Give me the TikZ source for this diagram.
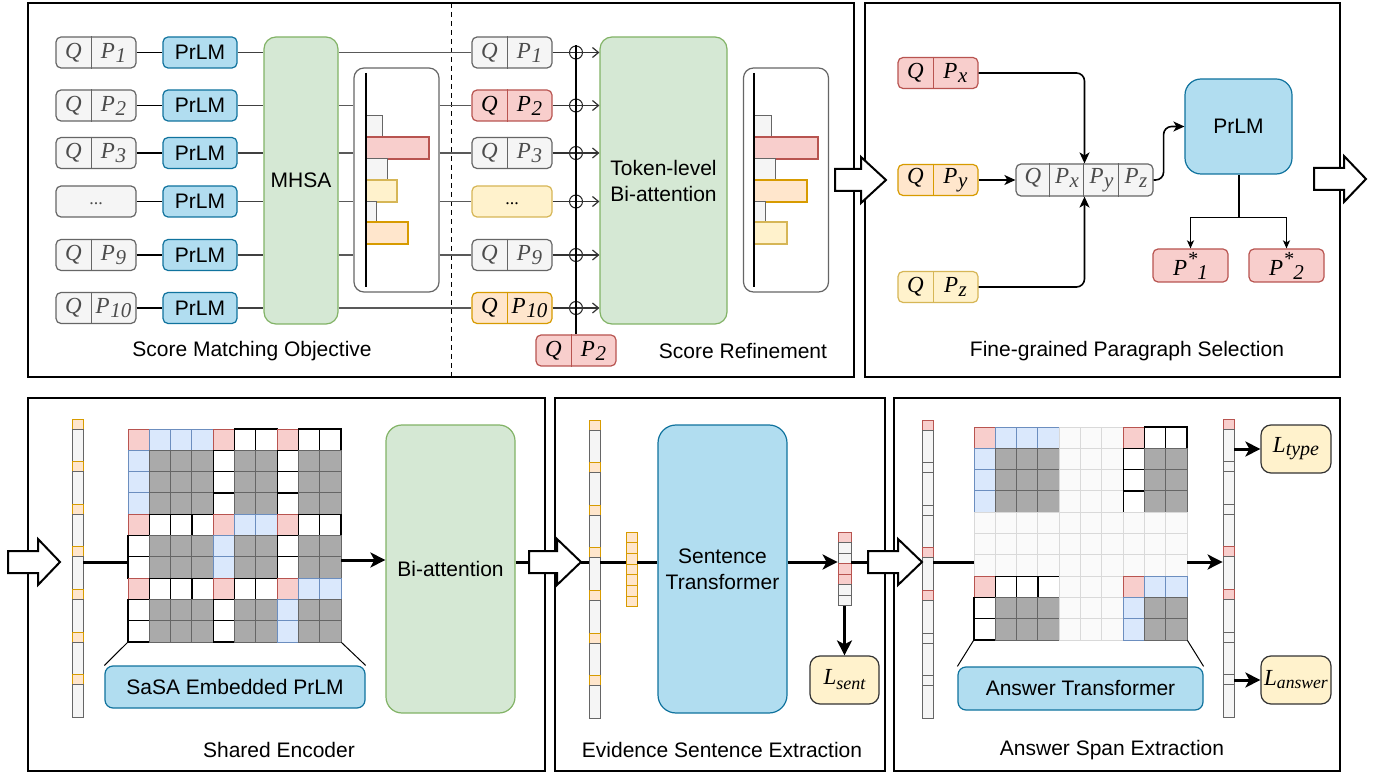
\documentclass[tikz,border=0pt]{standalone}
\usepackage{fontspec}
\setmainfont{Liberation Sans}
\newfontfamily\tms{Liberation Serif}
\usetikzlibrary{arrows.meta,calc}
\definecolor{grayF}{HTML}{F5F5F5}
\definecolor{grayS}{HTML}{666666}
\definecolor{redF}{HTML}{F8CECC}
\definecolor{redS}{HTML}{B85450}
\definecolor{yelF}{HTML}{FFF2CC}
\definecolor{yelS}{HTML}{D6B656}
\definecolor{oraF}{HTML}{FFE6CC}
\definecolor{oraS}{HTML}{D79B00}
\definecolor{bluF}{HTML}{B1DDF0}
\definecolor{bluS}{HTML}{10739E}
\definecolor{grnF}{HTML}{D5E8D4}
\definecolor{grnS}{HTML}{82B366}
\definecolor{lbF}{HTML}{DAE8FC}
\definecolor{lbS}{HTML}{6C8EBF}
\definecolor{cellG}{HTML}{AAAAAA}
\newcommand\Psub[1]{P\kern0.3pt\raisebox{-2pt}{\fontsize{10.5}{10.5}\selectfont #1}}
\newcommand\qpb[5]{%
  \node[qpbox,#4] (#1) at (#2,#3) {\makebox[17.5pt]{Q}\makebox[22.5pt]{#5}};
  \draw[#4,fill=none] ($(#1.north)+(-5,0)$) -- ($(#1.south)+(-5,0)$);
}
\newcommand\blockarrow[4]{%
  \draw[blk] (#1,#4-11) -- (#2,#4-11) -- (#2,#4-23) -- (#3,#4) -- (#2,#4+23) -- (#2,#4+11) -- (#1,#4+11) -- cycle;
}
\newcommand\attnmat[3]{%
  \foreach \row [count=\r from 0] in {#3} {
    \foreach \t [count=\c from 0] in \row {
      \draw[cell\t] (#1+\c*21.3,#2+\r*21.3) rectangle ++(21.3,21.3);
    }
  }
}
\newcommand\tokcol[4]{% x, y, width, list k/style
  \foreach \k/\s in {#4} {
    \draw[\s] (#1,#2+\k*42.6) rectangle ++(#3,10);
    \draw[tokg] (#1,#2+\k*42.6+10) rectangle ++(#3,32.6);
  }
}
\begin{document}
\begin{tikzpicture}[x=0.5pt,y=-0.5pt,
  lbl/.style={font=\fontsize{10.5}{13}\selectfont, inner sep=0, align=center},
  panel/.style={draw=black, line width=1pt, inner sep=0, rectangle},
  qpbox/.style={rectangle, rounded corners=2.5pt, minimum width=40pt, minimum height=15.5pt, inner sep=0, line width=0.6pt, font=\fontsize{11.5}{13}\tms\itshape},
  gbox/.style={fill=grayF, draw=grayS, text=black!70},
  rbox/.style={fill=redF, draw=redS},
  ybox/.style={fill=yelF, draw=yelS},
  obox/.style={fill=oraF, draw=oraS},
  bbox/.style={fill=bluF, draw=bluS},
  grbox/.style={fill=grnF, draw=grnS},
  lbox/.style={fill=yelF, draw=black!80, rectangle, rounded corners=5pt, line width=0.6pt, inner sep=0, font=\fontsize{11.5}{13}\tms\itshape},
  smbox/.style={rectangle, rounded corners=2.5pt, minimum width=37pt, minimum height=15.5pt, inner sep=0, line width=0.6pt, font=\fontsize{10.5}{12}\selectfont},
  bigbox/.style={rectangle, rounded corners=6pt, inner sep=0, line width=0.6pt, align=center, font=\fontsize{10.5}{13}\selectfont},
  chart/.style={rectangle, rounded corners=5pt, draw=black!60, line width=0.6pt, minimum width=42.5pt, minimum height=112pt, inner sep=0},
  plus/.style={circle, draw=black!85, minimum size=6.5pt, inner sep=0, line width=0.5pt},
  ln/.style={draw=black, line width=0.6pt},
  ln2/.style={draw=black!75, line width=0.6pt},
  gl/.style={draw=black!65, line width=0.7pt},
  sarr/.style={draw=black!80, line width=0.6pt, -{Straight Barb[length=3pt,width=5pt]}},
  farr/.style={draw=black, line width=0.8pt, rounded corners=4pt, -{Stealth[length=5.5pt,width=5pt,inset=1.5pt]}},
  farr2/.style={draw=black, line width=0.9pt, -{Stealth[length=4pt,width=3.5pt,inset=1pt]}},
  thk/.style={draw=black, line width=1.5pt},
  thka/.style={draw=black, line width=1.5pt, -{Stealth[length=7.5pt,width=7.5pt,inset=2pt]}},
  blk/.style={draw=black, fill=white, line width=1pt, line join=miter},
  bargray/.style={fill=grayF, draw=grayS, line width=0.5pt},
  barred/.style={fill=redF, draw=redS, line width=0.6pt},
  baryel/.style={fill=yelF, draw=yelS, line width=0.6pt},
  barora/.style={fill=oraF, draw=oraS, line width=0.6pt},
  cellR/.style={fill=redF, draw=redS, line width=0.5pt},
  cellB/.style={fill=lbF, draw=lbS, line width=0.5pt},
  cellW/.style={fill=white, draw=black, line width=0.6pt},
  cellG/.style={fill=cellG, draw=black!60, line width=0.5pt},
  cellL/.style={fill=black!2, draw=black!15, line width=0.5pt},
  tokg/.style={fill=grayF, draw=grayS, line width=0.5pt},
  toko/.style={fill=oraF, draw=oraS, line width=0.5pt},
  tokr/.style={fill=redF, draw=redS, line width=0.5pt},
  hold/.style={inner sep=0, rectangle}
]
\fill[white] (0,0) rectangle (1377,775);
\useasboundingbox (0,0) rectangle (1377,775);

% ---------- panels ----------
\node[panel, minimum width=413pt, minimum height=187pt] (pA) at (441,190) {};
\node[panel, minimum width=237.5pt, minimum height=187pt] (pB) at (1102.5,190) {};
\node[panel, minimum width=258.5pt, minimum height=186.5pt] (pC) at (286.5,584.5) {};
\node[panel, minimum width=165pt, minimum height=186.5pt] (pD) at (720,584.5) {};
\node[panel, minimum width=223pt, minimum height=186.5pt] (pE) at (1117,584.5) {};
\coordinate (dtop) at (451,3);
\coordinate (dbot) at (451,377);
\draw[dash pattern=on 2.5pt off 2pt, line width=0.5pt] (dtop) -- (dbot);

% ---------- Score matching objective ----------
\qpb{a1}{96}{52.5}{gbox}{\Psub{1}}
\qpb{a2}{96}{105.5}{gbox}{\Psub{2}}
\qpb{a3}{96}{153}{gbox}{\Psub{3}}
\node[qpbox,gbox] (a4) at (96,201.5) {\raisebox{-3pt}{\upshape\fontsize{9}{9}\selectfont ...}};
\qpb{a5}{96}{255}{gbox}{\Psub{9}}
\qpb{a6}{96}{308}{gbox}{\Psub{10}}
\foreach \i/\y in {1/52.5,2/105.5,3/153,4/201.5,5/255,6/308} {
  \node[smbox,bbox] (p\i) at (200,\y) {PrLM};
}
\node[bigbox,grbox,minimum width=37pt,minimum height=143.5pt] (mh) at (301,180.5) {MHSA};
\node[chart] (ch1) at (396.5,180) {};
\foreach \i in {1,...,6} {
  \draw[ln] (a\i.east) -- (p\i.west);
  \draw[ln2] (p\i.east) -- (p\i.east -| mh.west);
}
% bars 1
\draw[bargray] (366,116) rectangle (382,137);
\draw[barred] (366,137) rectangle (429,159);
\draw[bargray] (366,159) rectangle (387,180);
\draw[baryel] (366,180) rectangle (397,202);
\draw[bargray] (366,202) rectangle (376,222);
\draw[barora] (366,222) rectangle (408,244);
\draw[line width=0.6pt] (366,73) -- (366,287);
\node[lbl] (capA) at (252,351) {Score Matching Objective};

% ---------- Score refinement ----------
\qpb{b1}{512}{52.5}{gbox}{\Psub{1}}
\qpb{b2}{512}{105.5}{rbox}{\Psub{2}}
\qpb{b3}{512}{153}{gbox}{\Psub{3}}
\node[qpbox,ybox] (b4) at (512,201.5) {\raisebox{-3pt}{\upshape\fontsize{9}{9}\selectfont ...}};
\qpb{b5}{512}{255}{gbox}{\Psub{9}}
\qpb{b6}{512}{308}{obox}{\Psub{10}}
\qpb{bq}{576}{350.5}{rbox}{\Psub{2}}
\node[bigbox,grbox,minimum width=63.5pt,minimum height=143.5pt] (tb) at (663.5,180.5) {Token-level\\Bi-attention};
\node[chart] (ch2) at (786,180) {};
\draw[gl] (mh.east |- b1.west) -- (b1.west);
\draw[gl] (mh.east |- b6.west) -- (b6.west);
\foreach \i in {2,...,5} {
  \draw[gl] (mh.east |- b\i.west) -- (ch1.west |- b\i.west);
  \draw[gl] (ch1.east |- b\i.west) -- (b\i.west);
}
\foreach \i/\y in {1/52.5,2/105.5,3/153,4/201.5,5/255,6/308} {
  \node[plus] (c\i) at (576,\y) {};
  \draw[sarr] (b\i.east) -- (b\i.east -| tb.west);
}
\draw[ln] (c1.north) -- (bq.north);
% bars 2
\draw[bargray] (754,116) rectangle (771,137);
\draw[barred] (754,137) rectangle (818,159);
\draw[bargray] (754,159) rectangle (775,180);
\draw[barora] (754,180) rectangle (807,202);
\draw[bargray] (754,202) rectangle (765,222);
\draw[baryel] (754,222) rectangle (787,244);
\draw[line width=0.6pt] (754,73) -- (754,287);
\node[lbl] (capA2) at (743,351) {Score Refinement};

% ---------- Fine-grained paragraph selection ----------
\qpb{fx}{938}{73}{rbox}{\Psub{x}}
\qpb{fy}{938}{180}{obox}{\Psub{y}}
\qpb{fz}{938}{287}{ybox}{\Psub{z}}
\node[qpbox,gbox,minimum width=68.5pt,minimum height=16pt] (cat) at (1084.5,180)
  {\makebox[17pt]{Q}\makebox[17pt]{\Psub{x}}\makebox[17.5pt]{\Psub{y}}\makebox[17pt]{\Psub{z}}};
\foreach \d in {34,68,103} {
  \draw[draw=grayS,line width=0.6pt] ($(cat.north west)+(\d,0)$) -- ($(cat.south west)+(\d,0)$);
}
\node[bigbox,bbox,rounded corners=8pt,minimum width=53.5pt,minimum height=47.5pt] (pr2) at (1238.5,126.5) {PrLM};
\node[qpbox,rbox,minimum width=37.5pt,minimum height=16.5pt] (ps1) at (1190.5,265.5)
  {P\raisebox{5pt}{\fontsize{10}{10}\selectfont *}\raisebox{-2pt}{\fontsize{10.5}{10}\selectfont 1}};
\node[qpbox,rbox,minimum width=37.5pt,minimum height=16.5pt] (ps2) at (1286.5,265.5)
  {P\raisebox{5pt}{\fontsize{10}{10}\selectfont *}\raisebox{-2pt}{\fontsize{10.5}{10}\selectfont 2}};
\draw[farr] (fx.east) -| (cat.north);
\draw[farr] (fy.east) -- (cat.west);
\draw[farr] (fz.east) -| (cat.south);
\draw[farr] (cat.east) -- ++(10,0) |- (pr2.west);
\coordinate (split) at ($(pr2.south)+(0,43)$);
\draw[line width=1pt] (pr2.south) -- (split);
\draw[farr2] (split) -| (ps1.north);
\draw[farr2] (split) -| (ps2.north);
\node[lbl] (capB) at (1127,351) {Fine-grained Paragraph Selection};

% ---------- Shared encoder ----------
\coordinate (mid) at (0,562);
\node[hold, minimum width=5.5pt, minimum height=149pt] (col1) at (77.5,568) {};
\tokcol{72}{419}{11}{0/toko,1/toko,2/toko,3/toko,4/toko,5/toko,6/toko}
\node[hold, minimum size=106.5pt] (mat1) at (234.5,535.5) {};
\attnmat{128}{429}{{R,B,B,B,R,W,W,R,W,W},{B,G,G,G,W,G,G,W,G,G},{B,G,G,G,W,G,G,W,G,G},{B,G,G,G,W,G,G,W,G,G},{R,W,W,W,R,B,B,R,W,W},{W,G,G,G,B,G,G,W,G,G},{W,G,G,G,B,G,G,W,G,G},{R,W,W,W,R,W,W,R,B,B},{W,G,G,G,W,G,G,B,G,G},{W,G,G,G,W,G,G,B,G,G}}
\node[bigbox,bbox,rounded corners=4pt,minimum width=130pt,minimum height=21pt] (sasa) at (235,687) {SaSA Embedded PrLM};
\draw[line width=0.5pt] (mat1.south west) -- (sasa.north west);
\draw[line width=0.5pt] (mat1.south east) -- (sasa.north east);
\node[bigbox,grbox,rounded corners=8pt,minimum width=64.5pt,minimum height=144pt] (bi) at (450.5,569) {Bi-attention};
\draw[thk] (col1.east |- mid) -- (mat1.west |- mid);
\draw[thka] (mat1.east |- 0,560) -- (bi.west |- 0,560);
\coordinate (s2) at (529,562);
\draw[thk] (bi.east |- s2) -- (s2);
\node[lbl] (capC) at (279,750) {Shared Encoder};

% ---------- Evidence sentence extraction ----------
\node[hold, minimum width=5.5pt, minimum height=149pt] (col2) at (594.5,569) {};
\tokcol{589}{420}{11}{0/toko,1/toko,2/toko,3/toko,4/toko,5/toko,6/toko}
\node[hold, minimum width=5.5pt, minimum height=37.5pt] (sc) at (631.5,569.5) {};
\foreach \k in {0,...,6} { \draw[toko] (626,532+\k*10.7) rectangle ++(11,10.7); }
\node[bigbox,bbox,rounded corners=9pt,minimum width=64.5pt,minimum height=144pt] (st) at (722.5,569) {Sentence\\Transformer};
\node[hold, minimum width=6.5pt, minimum height=37pt] (oc) at (844.5,569) {};
\foreach \k/\s in {0/tokr,1/tokg,2/tokg,3/tokr,4/tokr,5/tokg,6/tokg} { \draw[\s] (838,532+\k*10.57) rectangle ++(13,10.57); }
\node[lbox,minimum width=34.5pt,minimum height=24pt] (lsent) at (844.5,680) {L\raisebox{-2.5pt}{\fontsize{9}{9}\selectfont sent}};
\coordinate (t3) at (581,562);
\draw[thk] (t3) -- (col2.west |- t3);
\draw[thk] (col2.east |- t3) -- (sc.west |- t3);
\draw[thk] (sc.east |- t3) -- (st.west |- t3);
\draw[thka] (st.east |- t3) -- (oc.west |- t3);
\coordinate (s3) at (868,562);
\draw[thk] (oc.east |- t3) -- (s3);
\draw[thka] (oc.south) -- (lsent.north);
\node[lbl] (capD) at (722,750) {Evidence Sentence Extraction};

% ---------- Answer span extraction ----------
\node[hold, minimum width=5.5pt, minimum height=149pt] (col3) at (927.5,569) {};
\tokcol{922}{420}{11}{0/tokr,1/tokg,2/tokg,3/tokr,4/tokr,5/tokg,6/tokg}
\node[hold, minimum size=106.5pt] (mat2) at (1080.5,533.5) {};
\attnmat{974}{427}{{R,B,B,B,L,L,L,R,W,W},{B,G,G,G,L,L,L,W,G,G},{B,G,G,G,L,L,L,W,G,G},{B,G,G,G,L,L,L,W,G,G},{L,L,L,L,L,L,L,L,L,L},{L,L,L,L,L,L,L,L,L,L},{L,L,L,L,L,L,L,L,L,L},{R,W,W,W,L,L,L,R,B,B},{W,G,G,G,L,L,L,B,G,G},{W,G,G,G,L,L,L,B,G,G}}
\node[bigbox,bbox,rounded corners=4pt,minimum width=122.5pt,minimum height=21.5pt] (at) at (1080.5,688.5) {Answer Transformer};
\draw[line width=0.5pt] (mat2.south west) -- (at.north west);
\draw[line width=0.5pt] (mat2.south east) -- (at.north east);
\node[hold, minimum width=5.5pt, minimum height=149pt] (rc) at (1228.5,568) {};
\tokcol{1223}{419}{11}{0/tokr,1/tokg,2/tokg,3/tokr,4/tokr,5/tokg,6/tokg}
\node[lbox,minimum width=35pt,minimum height=24pt] (ltype) at (1296,449) {L\raisebox{-1.5pt}{\fontsize{10}{10}\selectfont type}};
\node[lbox,minimum width=35pt,minimum height=24pt] (lans) at (1296,680) {L\raisebox{-1.5pt}{\fontsize{8.8}{10}\selectfont answer}};
\draw[thk] (col3.east |- mid) -- (mat2.west |- mid);
\draw[thka] (mat2.east |- mid) -- (rc.west |- mid);
\draw[thka] (rc.east |- ltype.west) -- (ltype.west);
\draw[thka] (rc.east |- lans.west) -- (lans.west);
\node[lbl] (capE) at (1112,750) {Answer Span Extraction};

% ---------- block arrows ----------
\blockarrow{835}{861}{886}{180}
\blockarrow{1314}{1344}{1366}{179}
\blockarrow{8}{38}{60}{562}
\blockarrow{529}{557}{581}{562}
\blockarrow{868}{898}{922}{562}
\end{tikzpicture}
\end{document}
